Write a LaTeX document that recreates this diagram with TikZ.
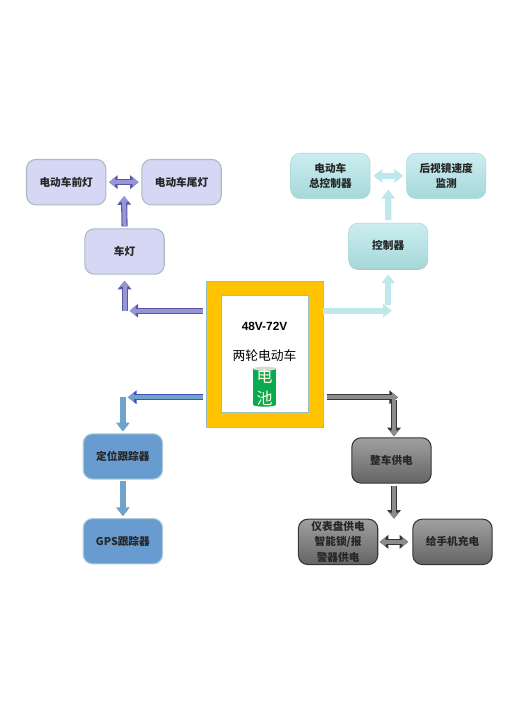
\documentclass[tikz,border=0pt]{standalone}
\usepackage{fontspec}
\setmainfont{Liberation Sans}
\newfontfamily\cjk{Noto Sans CJK SC}
\usepackage{tikz}
\usetikzlibrary{arrows.meta, positioning, shapes.geometric, shadows, calc}
\definecolor{lampfill}{RGB}{214,214,245}
\definecolor{lampline}{RGB}{165,190,190}
\definecolor{lamparrow}{RGB}{150,150,212}
\definecolor{lampedge}{RGB}{88,88,170}
\definecolor{ctrltop}{RGB}{204,237,240}
\definecolor{ctrlbot}{RGB}{165,216,216}
\definecolor{ctrlarrow}{RGB}{190,232,235}
\definecolor{gpsfill}{RGB}{104,155,208}
\definecolor{gpsline}{RGB}{170,205,215}
\definecolor{gpsarrow}{RGB}{112,163,204}
\definecolor{gpsedge}{RGB}{70,80,190}
\definecolor{powtop}{RGB}{160,160,160}
\definecolor{powbot}{RGB}{100,100,100}
\definecolor{powline}{RGB}{55,55,55}
\definecolor{powarrow}{RGB}{140,140,140}
\definecolor{framefill}{RGB}{255,195,0}
\definecolor{frameline}{RGB}{150,190,200}
\definecolor{cellgreen}{RGB}{10,170,80}

\begin{document}
\begin{tikzpicture}[
    block/.style={rectangle, rounded corners=7pt, minimum height=34pt, minimum width=59.5pt,
                  inner sep=1pt, align=center, font=\cjk\bfseries\fontsize{8}{11.5}\selectfont, text=black!85},
    lampbox/.style={block, draw=lampline, thick, fill=lampfill},
    ctrlbox/.style={block, draw=ctrlbot, top color=ctrltop, bottom color=ctrlbot},
    gpsbox/.style={block, draw=gpsline, thick, fill=gpsfill},
    powbox/.style={block, draw=powline, thick, top color=powtop, bottom color=powbot},
    % fat arrow: #1 = edge colour, #2 = fill colour
    fat/.style 2 args={preaction={draw=#1, line width=4.6pt, -{Triangle[length=6.5pt, width=10pt]}},
                       draw=#2, line width=3pt, -{Triangle[length=4.5pt, width=7pt]}},
    fatboth/.style 2 args={preaction={draw=#1, line width=4.6pt, {Triangle[length=6.5pt, width=10pt]}-{Triangle[length=6.5pt, width=10pt]}},
                       draw=#2, line width=3pt, {Triangle[length=4.5pt, width=7pt]}-{Triangle[length=4.5pt, width=7pt]}},
]
    \useasboundingbox (0,0) rectangle (394.5pt,-534.75pt);

    % Battery frame
    \node[rectangle, draw=frameline, fill=framefill, minimum width=87.75pt, minimum height=109.5pt,
          inner sep=0pt] (frame) at (198.4pt,-265.5pt) {};
    \node[rectangle, draw=frameline, fill=white, minimum width=65.25pt, minimum height=87.75pt,
          inner sep=0pt] (panel) at (frame.center) {};
    \node[font=\bfseries\fontsize{8.9}{10}\selectfont, inner sep=0pt] (volt) at ([yshift=-23.25pt]panel.north) {48V-72V};
    \node[font=\cjk\fontsize{9.6}{11}\selectfont, inner sep=0pt, below=14pt of volt] (bike) {两轮电动车};
    \node[cylinder, shape border rotate=90, aspect=0.25, cylinder uses custom fill,
          cylinder body fill=cellgreen, cylinder end fill=black!15, draw=none, minimum width=17pt,
          minimum height=30pt, inner xsep=0pt, inner ysep=-2pt, align=center, text=yellow!15,
          font=\cjk\fontsize{12}{16.5}\selectfont, below=3.5pt of bike] (cell) {电\\池};

    % Lights
    \node[lampbox, above left=4.5pt and 30.75pt of frame] (lamp) {车灯};
    \node[lampbox, above left=17.25pt and -16.5pt of lamp] (front) {电动车前灯};
    \node[lampbox, right=26.25pt of front] (tail) {电动车尾灯};

    % Controllers
    \node[ctrlbox, drop shadow={shadow xshift=0pt, shadow yshift=-1pt, opacity=.5}, above right=9pt and 18.75pt of frame] (ctrl) {控制器};
    \node[ctrlbox, above left=18pt and -16.5pt of ctrl] (master) {电动车\\总控制器};
    \node[ctrlbox, right=27pt of master] (mirror) {后视镜速度\\监测};

    % Trackers
    \node[gpsbox, below left=4.5pt and 32pt of frame] (track) {定位跟踪器};
    \node[gpsbox, below=28.75pt of track] (gps) {GPS跟踪器};

    % Power
    \node[powbox, below right=7.5pt and 21pt of frame] (power) {整车供电};
    \node[powbox, below left=26.25pt and -20.25pt of power] (dash) {仪表盘供电\\智能锁/报\\警器供电};
    \node[powbox, right=25.5pt of dash] (phone) {给手机充电};

    % Turning points
    \coordinate[below=27pt of lamp] (lampturn);
    \coordinate[below=31.5pt of ctrl] (ctrlturn);
    \coordinate[above=27pt of track] (trackturn);
    \coordinate[above=30pt of power, xshift=1.9pt] (powerturn);
    \coordinate (lampjoin) at ($(front.east)!0.5!(tail.west)$);
    \coordinate (ctrljoin) at ($(master.east)!0.5!(mirror.west)$);

    % Wiring: lights
    \draw[fat={lampedge}{lamparrow}, shorten <=2.25pt] (frame.west |- lampturn) -- ([xshift=3.75pt]lampturn);
    \draw[fat={lampedge}{lamparrow}, shorten >=4.5pt] (lampturn) -- (lamp.south);
    \draw[fat={lampedge}{lamparrow}, shorten <=1.5pt, shorten >=10.5pt] (lamp.north) -- (lampjoin);
    \draw[fatboth={lampedge}{lamparrow}, shorten <=2pt, shorten >=2pt] (front.east) -- (tail.west);

    % Wiring: controllers
    \draw[fat={ctrlarrow}{ctrlarrow}] (frame.east |- ctrlturn) -- ([xshift=2.6pt]ctrlturn);
    \draw[fat={ctrlarrow}{ctrlarrow}, shorten <=4.5pt, shorten >=4.5pt] (ctrlturn) -- (ctrl.south);
    \draw[fat={ctrlarrow}{ctrlarrow}, shorten <=2pt, shorten >=10.5pt] (ctrl.north) -- (ctrljoin);
    \draw[fatboth={ctrlarrow}{ctrlarrow}, shorten <=2.5pt, shorten >=2.5pt] (master.east) -- (mirror.west);

    % Wiring: trackers
    \draw[fat={gpsedge}{gpsarrow}, shorten <=2.25pt] (frame.west |- trackturn) -- ([xshift=3.75pt]trackturn);
    \draw[fat={gpsarrow}{gpsarrow}, shorten >=1.5pt] (trackturn) -- (track.north);
    \draw[fat={gpsarrow}{gpsarrow}, shorten <=1pt, shorten >=1.5pt] (track.south) -- (gps.north);

    % Wiring: power
    \draw[fat={powline}{powarrow}, shorten <=3pt] (frame.east |- powerturn) -- ([xshift=3pt]powerturn);
    \draw[fat={powline}{powarrow}, shorten <=2.25pt, shorten >=0.75pt] (powerturn) -- (powerturn |- power.north);
    \draw[fat={powline}{powarrow}, shorten <=1.5pt] (powerturn |- power.south) -- (powerturn |- dash.north);
    \draw[fatboth={powline}{powarrow}, shorten <=1pt, shorten >=3pt] (dash.east) -- (phone.west);
\end{tikzpicture}
\end{document}
